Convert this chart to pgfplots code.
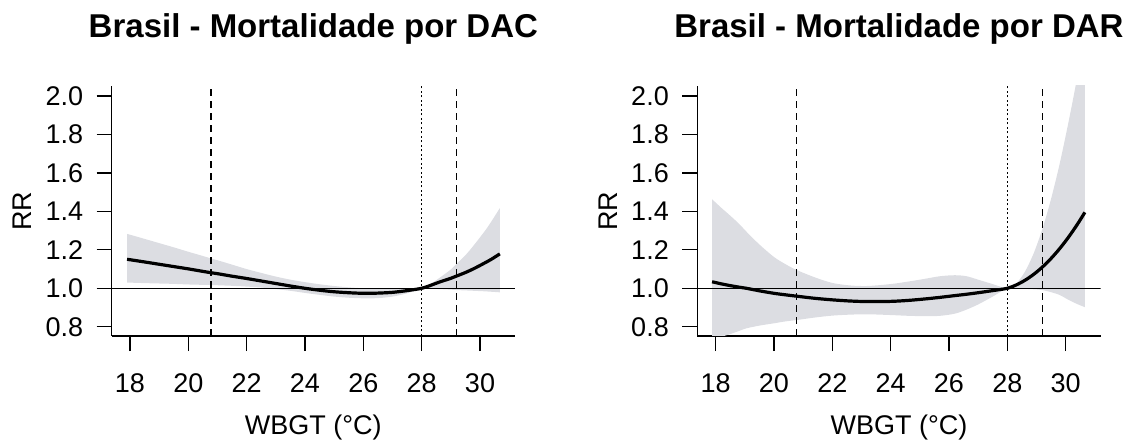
\documentclass[border=0pt]{standalone}
\usepackage{fontspec}
\setmainfont{Liberation Sans}
\usepackage{pgfplots}
\usepackage{pgfplotstable}
\usepgfplotslibrary{fillbetween}
\pgfplotsset{compat=1.18}
\definecolor{band}{RGB}{220,221,226}

\pgfplotstableread{
x fit lo hi
17.9 1.151 1.030 1.283
18.5 1.137 1.027 1.257
19 1.125 1.025 1.235
19.5 1.113 1.023 1.213
20 1.101 1.020 1.190
20.5 1.088 1.018 1.168
20.78 1.081 1.017 1.155
21 1.076 1.016 1.146
21.5 1.063 1.013 1.123
22 1.051 1.009 1.100
22.5 1.038 1.004 1.080
23 1.025 0.996 1.061
23.5 1.012 0.987 1.045
24 1.000 0.976 1.032
24.5 0.990 0.966 1.021
25 0.982 0.957 1.012
25.5 0.977 0.951 1.005
26 0.974 0.948 1.000
26.5 0.975 0.949 0.997
27 0.979 0.957 0.996
27.5 0.988 0.974 0.997
28 1.000 1.000 1.000
28.3 1.015 0.998 1.022
28.6 1.032 0.996 1.053
29 1.052 0.993 1.098
29.2 1.064 0.991 1.128
29.5 1.082 0.989 1.172
29.8 1.103 0.987 1.226
30.2 1.135 0.984 1.305
30.4 1.152 0.982 1.350
30.68 1.179 0.979 1.417
}\dac

\pgfplotstableread{
x fit lo hi
17.88 1.034 0.735 1.463
18.2 1.023 0.748 1.418
18.5 1.014 0.762 1.378
18.8 1.006 0.778 1.336
19.06 1.000 0.792 1.294
19.5 0.987 0.806 1.228
20 0.974 0.818 1.163
20.4 0.966 0.828 1.125
20.78 0.959 0.835 1.095
21.4 0.948 0.848 1.057
22 0.940 0.858 1.028
22.6 0.934 0.863 1.015
23.2 0.931 0.865 1.012
24 0.932 0.861 1.022
24.6 0.937 0.857 1.035
25.2 0.945 0.855 1.050
25.7 0.953 0.857 1.063
26.2 0.962 0.868 1.068
26.6 0.969 0.889 1.063
27 0.977 0.916 1.045
27.5 0.988 0.957 1.022
28 1.000 1.000 1.000
28.3 1.017 0.999 1.024
28.6 1.041 0.997 1.085
28.9 1.072 0.995 1.180
29.2 1.110 0.991 1.307
29.5 1.155 0.980 1.464
29.8 1.207 0.965 1.650
30.1 1.266 0.940 1.865
30.4 1.332 0.918 2.100
30.66 1.395 0.902 2.340
}\dar

\pgfplotsset{
  rstyle/.style={
    scale only axis, width=403.3pt, height=250pt,
    xmin=17.373, xmax=31.2, ymin=0.752, ymax=2.052,
    axis lines*=left,
    axis line style={line width=1.3pt},
    tick align=outside, major tick length=15pt,
    tick style={line width=1.3pt, black},
    xtick={18,20,22,24,26,28,30},
    ytick={0.8,1,1.2,1.4,1.6,1.8,2},
    yticklabels={0.8,1.0,1.2,1.4,1.6,1.8,2.0},
    /pgf/number format/assume math mode=true,
    tick label style={font=\fontsize{27}{31}\selectfont},
    xticklabel style={anchor=base, yshift=-41pt},
    yticklabel style={anchor=east, xshift=-10pt},
    title style={at={(0.5,1)}, anchor=base, yshift=42.7pt, font=\fontsize{33}{38}\selectfont\bfseries},
    xlabel style={at={(0.5,0)}, anchor=base, yshift=-99pt, font=\fontsize{27}{31}\selectfont},
    ylabel style={at={(-0.198,0.5)}, rotate=0, anchor=base, font=\fontsize{27}{31}\selectfont},
    xlabel={WBGT (°C)}, ylabel={RR},
  },
  fitline/.style={black, line width=3.2pt, smooth},
  dashv/.style={black, line width=1.4pt, dash pattern=on 7pt off 5pt},
  dotv/.style={black, line width=1.4pt, dash pattern=on 2pt off 2.5pt},
}

\begin{document}
\begin{tikzpicture}

\begin{axis}[rstyle, at={(111.7pt,105pt)}, anchor=south west,
  title={Brasil - Mortalidade por DAC}]
  \addplot[name path=U, draw=none, smooth] table[x=x, y=hi]{\dac};
  \addplot[name path=L, draw=none, smooth] table[x=x, y=lo]{\dac};
  \addplot[band, draw=none] fill between[of=U and L];
  \addplot[black, line width=1.3pt] coordinates {(17.373,1) (31.2,1)};
  \addplot[dashv] coordinates {(20.78,0.752) (20.78,2.052)};
  \addplot[dotv] coordinates {(28,0.752) (28,2.052)};
  \addplot[dashv] coordinates {(29.2,0.752) (29.2,2.052)};
  \addplot[fitline] table[x=x, y=fit]{\dac};
\end{axis}

\begin{axis}[rstyle, at={(697.3pt,105pt)}, anchor=south west,
  title={Brasil - Mortalidade por DAR}]
  \addplot[name path=U, draw=none, smooth] table[x=x, y=hi]{\dar};
  \addplot[name path=L, draw=none, smooth] table[x=x, y=lo]{\dar};
  \addplot[band, draw=none] fill between[of=U and L];
  \addplot[black, line width=1.3pt] coordinates {(17.373,1) (31.2,1)};
  \addplot[dashv] coordinates {(20.78,0.752) (20.78,2.052)};
  \addplot[dotv] coordinates {(28,0.752) (28,2.052)};
  \addplot[dashv] coordinates {(29.2,0.752) (29.2,2.052)};
  \addplot[fitline] table[x=x, y=fit]{\dar};
\end{axis}

\pgfresetboundingbox
\path[use as bounding box] (0,0) rectangle (1126pt,441pt);
\end{tikzpicture}
\end{document}
